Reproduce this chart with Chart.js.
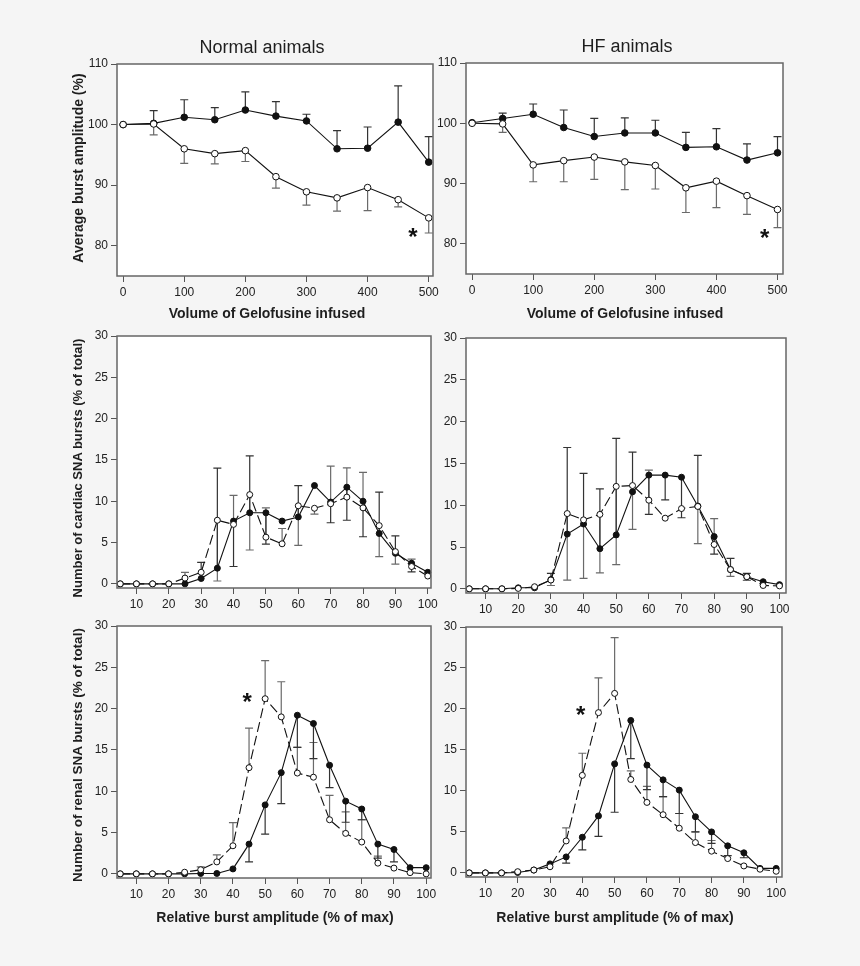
<!DOCTYPE html>
<html>
<head>
<meta charset="utf-8">
<script src="https://cdn.jsdelivr.net/npm/chart.js@4.4.1/dist/chart.umd.min.js"></script>
<style>
html, body { margin: 0; padding: 0; background: #f5f5f5; }
body { width: 860px; height: 966px; position: relative; overflow: hidden;
       font-family: "Liberation Sans", Arial, sans-serif; color: #1e1e1e; }
canvas { position: absolute; left: 0; top: 0; }
.t { position: absolute; white-space: nowrap; text-align: center; }
.title { font-size: 18px; line-height: 18px; width: 300px; }
.xt { font-size: 14px; line-height: 14px; font-weight: bold; width: 400px; }
.yt { font-size: 14px; line-height: 14px; font-weight: bold; width: 400px; height: 14px; transform: rotate(-90deg); }
</style>
</head>
<body>
<canvas id="c1" width="860" height="966"></canvas>
<canvas id="c2" width="860" height="966"></canvas>
<canvas id="c3" width="860" height="966"></canvas>
<canvas id="c4" width="860" height="966"></canvas>
<canvas id="c5" width="860" height="966"></canvas>
<canvas id="c6" width="860" height="966"></canvas>

<div class="t title" style="left:112px; top:38px;">Normal animals</div>
<div class="t title" style="left:477px; top:37px;">HF animals</div>
<div class="t yt" style="left:-122px; top:161px;">Average burst amplitude (%)</div>
<div class="t yt" style="left:-122px; top:461px; font-size:13px;">Number of cardiac SNA bursts (% of total)</div>
<div class="t yt" style="left:-122px; top:748px; font-size:13.5px;">Number of renal SNA bursts (% of total)</div>
<div class="t xt" style="left:67px; top:306px;">Volume of Gelofusine infused</div>
<div class="t xt" style="left:425px; top:306px;">Volume of Gelofusine infused</div>
<div class="t xt" style="left:75px; top:910px;">Relative burst amplitude (% of max)</div>
<div class="t xt" style="left:415px; top:910px;">Relative burst amplitude (% of max)</div>

<script>
// ---- data ----
// top row: average burst amplitude vs volume infused
var volume = [0, 50, 100, 150, 200, 250, 300, 350, 400, 450, 500];
var volumeTicks = [0, 100, 200, 300, 400, 500];
var ampTicks = [80, 90, 100, 110];

var normalAmpFilled    = [100, 100.2, 101.2, 100.8, 102.4, 101.4, 100.6, 96.0, 96.1, 100.4, 93.8];
var normalAmpFilledErr = [null, 102.3, 104.1, 102.8, 105.4, 103.8, 101.7, 99.0, 99.6, 106.4, 98.0];
var normalAmpOpen      = [100, 100.1, 96.0, 95.2, 95.7, 91.4, 88.9, 87.9, 89.6, 87.6, 84.6];
var normalAmpOpenErr   = [null, 98.3, 93.6, 93.5, 93.9, 89.5, 86.7, 85.7, 85.8, 86.4, 82.1];
var normalAmpStar      = [474, 82.3];

var hfAmpFilled    = [100.1, 100.8, 101.5, 99.3, 97.8, 98.4, 98.4, 96.0, 96.1, 93.9, 95.1];
var hfAmpFilledErr = [null, 101.7, 103.2, 102.2, 100.8, 100.9, 100.5, 98.5, 99.1, 96.6, 97.8];
var hfAmpOpen      = [100, 99.9, 93.1, 93.8, 94.4, 93.6, 93.0, 89.3, 90.4, 88.0, 85.7];
var hfAmpOpenErr   = [null, 98.5, 90.3, 90.3, 90.7, 89.0, 89.1, 85.2, 86.0, 84.9, 82.7];
var hfAmpStar      = [479, 81.9];

// middle and bottom rows: burst distribution vs relative amplitude
var relAmp = [5, 10, 15, 20, 25, 30, 35, 40, 45, 50, 55, 60, 65, 70, 75, 80, 85, 90, 95, 100];
var relTicks = [10, 20, 30, 40, 50, 60, 70, 80, 90, 100];
var pctTicks = [0, 5, 10, 15, 20, 25, 30];

var cardiacNormalFilled    = [0, 0, 0, 0, 0, 0.65, 1.9, 7.6, 8.6, 8.6, 7.6, 8.1, 11.9, 9.9, 11.7, 10.0, 6.1, 3.7, 2.5, 1.4];
var cardiacNormalFilledErr = [null, null, null, null, null, 2.6, 14.0, 2.1, 15.5, 4.8, null, 11.9, null, 7.4, 7.7, 5.7, 11.1, 5.8, 1.45, null];
var cardiacNormalOpen      = [0, 0, 0, 0, 0.7, 1.4, 7.7, 7.2, 10.8, 5.65, 4.85, 9.45, 9.15, 9.7, 10.5, 9.2, 7.05, 3.9, 2.1, 0.95];
var cardiacNormalOpenErr   = [null, null, null, null, 1.4, null, 0.35, 10.7, 4.1, 9.2, 6.7, 4.65, 8.45, 14.25, 14.05, 13.5, 3.3, 2.4, 3.0, null];

var cardiacHFFilled    = [0, 0, 0, 0.12, 0.12, 1.1, 6.55, 7.75, 4.8, 6.45, 11.6, 13.6, 13.6, 13.35, 9.9, 6.25, 2.3, 1.45, 0.85, 0.5];
var cardiacHFFilledErr = [null, null, null, null, null, 1.85, 16.9, 13.8, 11.95, 18.0, 16.35, 8.9, 10.65, 8.5, 15.95, 4.15, 3.65, 1.85, null, null];
var cardiacHFOpen      = [0, 0, 0, 0.05, 0.25, 1.05, 9.0, 8.25, 8.9, 12.25, 12.35, 10.6, 8.45, 9.6, 9.85, 5.3, 2.3, 1.45, 0.4, 0.35];
var cardiacHFOpenErr   = [null, null, null, null, null, 0.4, 1.05, 1.25, 1.9, 2.9, 7.1, 14.2, null, null, 5.4, 8.4, 1.5, 1.0, null, null];

var renalNormalFilled    = [0, 0, 0, 0, 0, 0.05, 0.05, 0.6, 3.6, 8.35, 12.25, 19.2, 18.2, 13.15, 8.8, 7.85, 3.6, 2.95, 0.75, 0.75];
var renalNormalFilledErr = [null, null, null, null, null, null, null, null, 1.45, 4.8, 8.5, 15.3, 13.95, 10.45, 6.25, 6.55, 1.9, 1.45, null, null];
var renalNormalOpen      = [0, 0, 0, 0, 0.2, 0.5, 1.45, 3.4, 12.85, 21.2, 19.0, 12.2, 11.7, 6.55, 4.9, 3.85, 1.3, 0.7, 0.15, 0];
var renalNormalOpenErr   = [null, null, null, null, null, 0.85, 2.3, 6.2, 17.65, 25.8, 23.25, 15.3, 15.9, 9.5, 7.5, 6.55, 2.15, null, null, null];
var renalNormalStar      = [44.4, 21.5];

var renalHFFilled    = [0, 0, 0, 0.05, 0.35, 1.1, 1.95, 4.35, 6.95, 13.3, 18.6, 13.15, 11.35, 10.1, 6.85, 5.0, 3.3, 2.45, 0.55, 0.55];
var renalHFFilledErr = [null, null, null, null, null, null, 1.2, 2.8, 4.45, 7.4, 13.95, 10.15, 9.3, 7.25, 5.0, 3.6, 2.1, 1.85, null, null];
var renalHFOpen      = [0, 0, 0, 0.15, 0.35, 0.75, 3.9, 11.9, 19.55, 21.9, 11.4, 8.6, 7.1, 5.45, 3.7, 2.65, 1.75, 0.85, 0.45, 0.2];
var renalHFOpenErr   = [null, null, null, null, null, null, 5.5, 14.6, 23.8, 28.7, 12.45, 10.55, 9.3, 7.25, 5.0, 3.95, null, null, null, null];
var renalHFStar      = [39.5, 20.0];

// ---- drawing ----
var FONT = '"Liberation Sans", Arial, sans-serif';
var AXW = 45, AXH = 30;

function pts(xs, ys) {
    return xs.map(function (x, i) { return {x: x, y: ys[i]}; });
}

function axis(pos, min, max, tickVals) {
    return {
        type: 'linear', position: pos, min: min, max: max,
        afterBuildTicks: function (s) { s.ticks = tickVals.map(function (v) { return {value: v}; }); },
        afterFit: function (s) { if (pos === 'left') s.width = AXW; else s.height = AXH; },
        grid: {display: true, drawOnChartArea: false, drawTicks: true, tickLength: 6,
               color: '#555', tickColor: '#555', lineWidth: 1},
        border: {display: false},
        ticks: {font: {family: FONT, size: 12}, color: '#222', padding: 3,
                autoSkip: false, maxRotation: 0, minRotation: 0}
    };
}

var frame = {
    id: 'frame',
    beforeDraw: function (chart) {
        var a = chart.chartArea, ctx = chart.ctx;
        ctx.save();
        ctx.fillStyle = '#fff';
        ctx.fillRect(a.left, a.top, a.right - a.left, a.bottom - a.top);
        ctx.restore();
    },
    beforeDatasetsDraw: function (chart) {
        var ctx = chart.ctx, xs = chart.scales.x, ys = chart.scales.y;
        chart.data.datasets.forEach(function (ds) {
            if (!ds.errTo) return;
            ctx.save();
            ctx.strokeStyle = ds.errColor;
            ctx.lineWidth = 1.2;
            ds.data.forEach(function (p, i) {
                var e = ds.errTo[i];
                if (e === null || e === undefined) return;
                var px = xs.getPixelForValue(p.x);
                var y1 = ys.getPixelForValue(p.y), y2 = ys.getPixelForValue(e);
                ctx.beginPath();
                ctx.moveTo(px, y1); ctx.lineTo(px, y2);
                ctx.moveTo(px - 4, y2); ctx.lineTo(px + 4, y2);
                ctx.stroke();
            });
            ctx.restore();
        });
    },
    afterDraw: function (chart) {
        var a = chart.chartArea, ctx = chart.ctx;
        ctx.save();
        ctx.strokeStyle = '#666';
        ctx.lineWidth = 1.5;
        ctx.strokeRect(a.left, a.top, a.right - a.left, a.bottom - a.top);
        var star = chart.config.options.star;
        if (star) {
            ctx.fillStyle = '#111';
            ctx.font = 'bold 24px ' + FONT;
            ctx.textAlign = 'center';
            ctx.textBaseline = 'alphabetic';
            ctx.fillText('*', chart.scales.x.getPixelForValue(star[0]),
                         chart.scales.y.getPixelForValue(star[1]) + 24 * 0.57);
        }
        ctx.restore();
    }
};

function panel(id, box, xr, xt, yr, yt, xs, f, fe, o, oe, dash, r, star) {
    new Chart(document.getElementById(id), {
        type: 'line',
        data: {
            datasets: [{
                data: pts(xs, o), errTo: oe, errColor: '#6a6a6a',
                borderColor: '#111', borderWidth: 1.1, borderDash: dash ? [10, 4] : [],
                pointRadius: r, pointBackgroundColor: '#fff', pointBorderColor: '#111',
                pointBorderWidth: 1, tension: 0, fill: false, clip: false
            }, {
                data: pts(xs, f), errTo: fe, errColor: '#333',
                borderColor: '#111', borderWidth: 1.1,
                pointRadius: r, pointBackgroundColor: '#111', pointBorderColor: '#111',
                pointBorderWidth: 1, tension: 0, fill: false, clip: false
            }]
        },
        options: {
            responsive: false, animation: false, star: star,
            layout: {padding: {left: box[0] - AXW, top: box[1], right: 860 - box[2], bottom: 966 - box[3] - AXH}},
            scales: {x: axis('bottom', xr[0], xr[1], xt), y: axis('left', yr[0], yr[1], yt)},
            plugins: {legend: {display: false}, tooltip: {enabled: false}}
        },
        plugins: [frame]
    });
}

panel('c1', [117, 64, 433, 276], [-10, 507], volumeTicks, [75, 110], ampTicks, volume,
      normalAmpFilled, normalAmpFilledErr, normalAmpOpen, normalAmpOpenErr, false, 3.3, normalAmpStar);
panel('c2', [466, 63, 783, 274], [-10, 509], volumeTicks, [75, 110], ampTicks, volume,
      hfAmpFilled, hfAmpFilledErr, hfAmpOpen, hfAmpOpenErr, false, 3.3, hfAmpStar);
panel('c3', [117, 336, 431, 588], [4, 101], relTicks, [-0.5, 30], pctTicks, relAmp,
      cardiacNormalFilled, cardiacNormalFilledErr, cardiacNormalOpen, cardiacNormalOpenErr, true, 3.0, null);
panel('c4', [466, 338, 786, 593], [4, 102], relTicks, [-0.5, 30], pctTicks, relAmp,
      cardiacHFFilled, cardiacHFFilledErr, cardiacHFOpen, cardiacHFOpenErr, true, 3.0, null);
panel('c5', [117, 626, 431, 878], [4, 101.5], relTicks, [-0.5, 30], pctTicks, relAmp,
      renalNormalFilled, renalNormalFilledErr, renalNormalOpen, renalNormalOpenErr, true, 3.0, renalNormalStar);
panel('c6', [466, 627, 782, 877], [4, 101.8], relTicks, [-0.5, 30], pctTicks, relAmp,
      renalHFFilled, renalHFFilledErr, renalHFOpen, renalHFOpenErr, true, 3.0, renalHFStar);
</script>
</body>
</html>
